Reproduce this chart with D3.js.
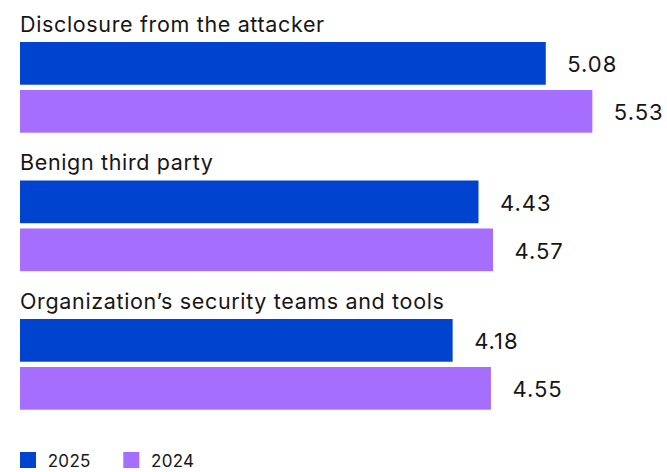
<!DOCTYPE html>
<html>
<head>
<meta charset="utf-8">
<script src="https://cdn.jsdelivr.net/npm/d3@7"></script>
<style>
  html, body { margin: 0; padding: 0; background: #fff; }
  svg { display: block; }
  text { font-family: Inter, "Noto Sans", sans-serif; fill: #161616; }
</style>
</head>
<body>
<svg id="chart" width="667" height="472"></svg>
<script>
// Time to identify a breach, by who disclosed it (months)
const categories = [
  "Disclosure from the attacker",
  "Benign third party",
  "Organization\u2019s security teams and tools"
];
const seriesNames = ["2025", "2024"];
const values2025 = [5.08, 4.43, 4.18];
const values2024 = [5.53, 4.57, 4.55];
const seriesColors = ["#0043ce", "#a56eff"];

const svg = d3.select("#chart");

const data = categories.map((c, i) => ({
  category: c,
  values: [
    { series: seriesNames[0], value: values2025[i] },
    { series: seriesNames[1], value: values2024[i] }
  ]
}));

const x = d3.scaleLinear().domain([0, 6]).range([20, 641]);

const group = d3.scaleBand()
  .domain(categories)
  .range([42, 42 + 138.5 * categories.length])
  .paddingInner(0).paddingOuter(0);

const inner = d3.scaleBand()
  .domain(seriesNames)
  .range([0, 90.7])
  .paddingInner(0.11).paddingOuter(0);

const color = d3.scaleOrdinal().domain(seriesNames).range(seriesColors);

const g = svg.selectAll("g.group")
  .data(data)
  .join("g")
  .attr("class", "group")
  .attr("transform", d => `translate(0,${group(d.category)})`);

g.append("text")
  .attr("x", 20)
  .attr("y", -10.5)
  .style("font-size", "21.5px")
  .style("letter-spacing", "0.65px")
  .text(d => d.category);

g.selectAll("rect")
  .data(d => d.values)
  .join("rect")
  .attr("x", x(0))
  .attr("y", d => inner(d.series))
  .attr("width", d => x(d.value) - x(0))
  .attr("height", inner.bandwidth())
  .attr("fill", d => color(d.series));

g.selectAll("text.value")
  .data(d => d.values)
  .join("text")
  .attr("class", "value")
  .attr("x", d => x(d.value) + 21.5)
  .attr("y", d => inner(d.series) + inner.bandwidth() / 2 + 9)
  .style("font-size", "22px")
  .style("letter-spacing", "1px")
  .text(d => d.value.toFixed(2));

// Legend
const legend = svg.append("g").attr("transform", "translate(20,452)");
const item = legend.selectAll("g")
  .data(seriesNames)
  .join("g")
  .attr("transform", (d, i) => `translate(${i * 103.3},0)`);
item.append("rect")
  .attr("width", 16).attr("height", 16)
  .attr("fill", d => color(d));
item.append("text")
  .attr("x", 27.7)
  .attr("y", 15)
  .style("font-size", "17px")
  .style("letter-spacing", "0.3px")
  .text(d => d);
</script>
</body>
</html>
